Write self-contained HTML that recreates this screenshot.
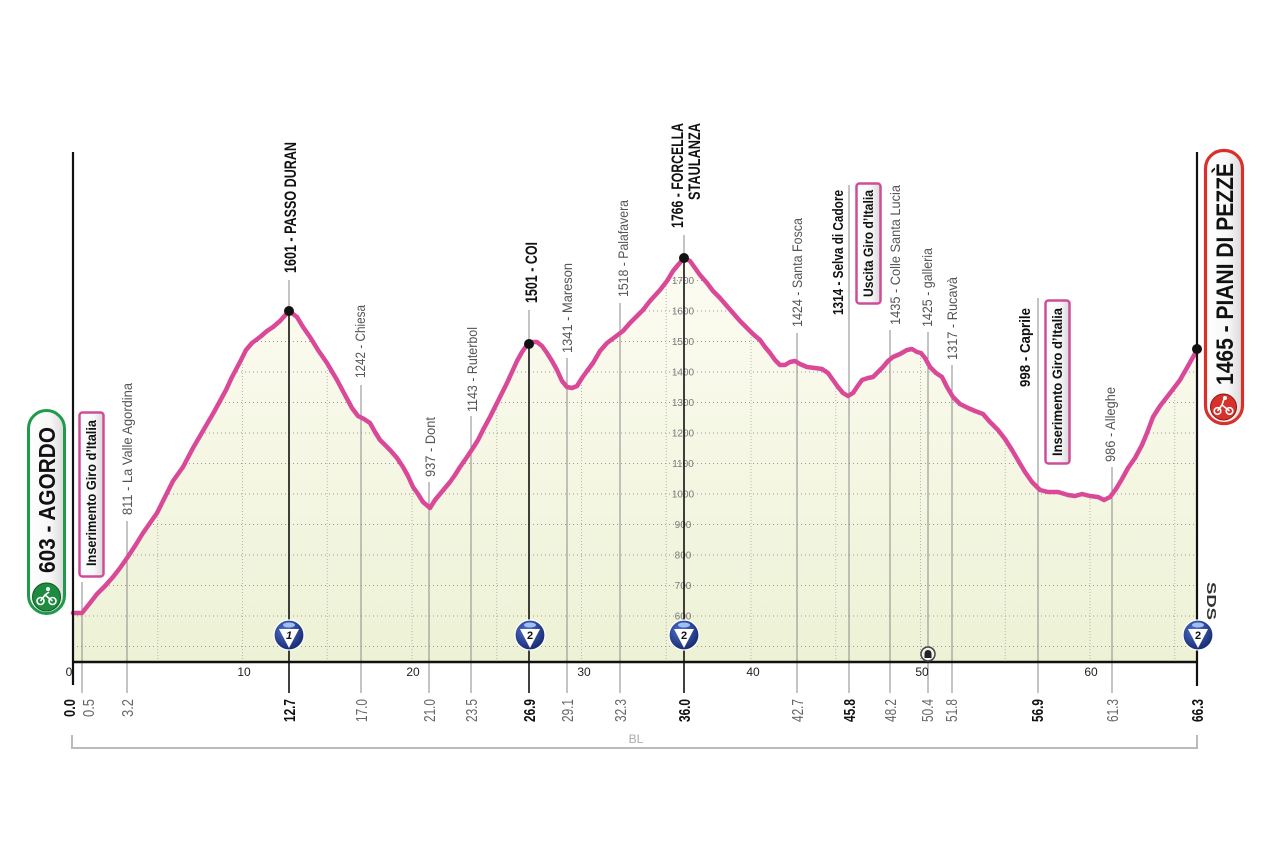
<!DOCTYPE html>
<html><head><meta charset="utf-8"><style>
html,body{margin:0;padding:0;background:#fff;}
svg{display:block;}
text{font-family:"Liberation Sans",sans-serif;}
</style></head><body>
<svg width="1280" height="852" viewBox="0 0 1280 852" xmlns="http://www.w3.org/2000/svg">
<defs>
<linearGradient id="fillg" x1="0" y1="250" x2="0" y2="662" gradientUnits="userSpaceOnUse">
<stop offset="0" stop-color="#fdfcf3"/><stop offset="1" stop-color="#edf2d5"/></linearGradient>
<linearGradient id="boxg" x1="0" y1="0" x2="1" y2="0">
<stop offset="0" stop-color="#ffffff"/><stop offset="0.6" stop-color="#f7f7f7"/><stop offset="1" stop-color="#d9d9d9"/></linearGradient>
<radialGradient id="kom" cx="0.4" cy="0.35" r="0.7">
<stop offset="0" stop-color="#4f73cf"/><stop offset="1" stop-color="#15256a"/></radialGradient>
<clipPath id="cp"><path id="areaP" d="M73,613 L82,613 L90,603 L97,594 L105,586 L113,577 L120,568 L127,558 L135,546 L143,533 L150,523 L157,513 L165,497 L173,481 L183,467 L193,448 L200,436 L207,424 L214,412 L220,401 L226,390 L232,377 L240,362 L246,350 L252,343 L260,337 L267,331 L273,327 L280,321 L289,311 L297,317 L303,327 L310,337 L318,350 L327,363 L337,380 L345,395 L352,408 L358,416 L364,419 L370,423 L375,432 L380,440 L390,450 L397,458 L403,467 L408,476 L413,487 L418,494 L423,502 L430,508 L435,500 L440,494 L450,482 L455,475 L460,467 L467,457 L473,448 L478,440 L483,430 L490,417 L497,403 L502,393 L507,383 L512,372 L517,361 L522,352 L527,345 L532,342 L537,342 L542,346 L547,353 L552,361 L557,370 L562,381 L567,387 L572,388 L577,386 L582,378 L587,371 L593,363 L600,351 L607,343 L615,337 L623,331 L630,323 L637,316 L643,310 L650,301 L660,290 L667,281 L673,271 L678,265 L684,258 L690,261 L695,268 L700,275 L707,283 L713,291 L720,298 L726,305 L733,313 L740,321 L747,328 L753,334 L760,340 L765,347 L770,353 L775,360 L780,365 L785,365 L790,362 L795,361 L800,364 L807,367 L815,368 L822,369 L828,373 L833,380 L838,387 L843,393 L848,396 L853,393 L857,387 L862,380 L868,378 L873,377 L878,372 L883,367 L888,361 L893,357 L900,354 L907,350 L912,349 L917,352 L921,353 L925,358 L930,367 L936,373 L942,377 L947,387 L953,397 L960,404 L968,408 L975,411 L983,414 L990,422 L998,430 L1005,439 L1012,450 L1019,462 L1025,472 L1032,482 L1040,490 L1048,492 L1058,492 L1068,495 L1075,496 L1082,494 L1090,496 L1098,497 L1104,500 L1110,497 L1116,489 L1122,479 L1128,468 L1135,458 L1142,445 L1147,433 L1153,417 L1160,406 L1167,397 L1174,388 L1180,380 L1188,366 L1197,350 L1197,662 L73,662 Z"/></clipPath>
</defs>

<!-- fill -->
<use href="#areaP" fill="url(#fillg)"/>

<!-- grid -->
<g clip-path="url(#cp)" stroke="#9a9a9a" stroke-width="1" stroke-dasharray="1 3" fill="none">
<path d="M73,646.5H1197M73,616H1197M73,585.5H1197M73,555H1197M73,524.5H1197M73,494H1197M73,463.5H1197M73,433H1197M73,402.5H1197M73,372H1197M73,341.5H1197M73,311H1197M73,280.5H1197"/>
<path stroke-dasharray="1 2" stroke="#b5b5b5" d="M157.75,250V662M242.5,250V662M327.25,250V662M412,250V662M496.75,250V662M581.5,250V662M666.25,250V662M751,250V662M835.75,250V662M920.5,250V662M1005.25,250V662M1090,250V662M1174.75,250V662"/>
</g>

<!-- elevation labels -->
<g font-size="10" fill="#7a7a7a" text-anchor="middle">
<text x="683" y="619.5">600</text><text x="683" y="589">700</text><text x="683" y="558.5">800</text><text x="683" y="528">900</text><text x="683" y="497.5">1000</text><text x="683" y="467">1100</text><text x="683" y="436.5">1200</text><text x="683" y="406">1300</text><text x="683" y="375.5">1400</text><text x="683" y="345">1500</text><text x="683" y="314.5">1600</text><text x="683" y="284">1700</text>
</g>

<!-- grey reference lines -->
<g stroke="#8a8a8a" stroke-width="1">
<line x1="82" y1="582" x2="82" y2="693"/>
<line x1="127" y1="521" x2="127" y2="693"/>
<line x1="289" y1="280" x2="289" y2="311"/>
<line x1="361" y1="385" x2="361" y2="693"/>
<line x1="429" y1="482" x2="429" y2="693"/>
<line x1="471" y1="416" x2="471" y2="693"/>
<line x1="529" y1="310" x2="529" y2="343"/>
<line x1="567" y1="358" x2="567" y2="693"/>
<line x1="620" y1="303" x2="620" y2="693"/>
<line x1="684" y1="235" x2="684" y2="258"/>
<line x1="797" y1="333" x2="797" y2="693"/>
<line x1="849" y1="185" x2="849" y2="693"/>
<line x1="890" y1="330" x2="890" y2="693"/>
<line x1="928" y1="332" x2="928" y2="693"/>
<line x1="952" y1="365" x2="952" y2="693"/>
<line x1="1038" y1="298" x2="1038" y2="693"/>
<line x1="1112" y1="467" x2="1112" y2="693"/>
</g>
<!-- black summit lines -->
<g stroke="#111" stroke-width="1.6">
<line x1="289" y1="311" x2="289" y2="693"/>
<line x1="529" y1="343" x2="529" y2="693"/>
<line x1="684" y1="258" x2="684" y2="693"/>
</g>

<!-- profile line -->
<path d="M73,613 L82,613 L90,603 L97,594 L105,586 L113,577 L120,568 L127,558 L135,546 L143,533 L150,523 L157,513 L165,497 L173,481 L183,467 L193,448 L200,436 L207,424 L214,412 L220,401 L226,390 L232,377 L240,362 L246,350 L252,343 L260,337 L267,331 L273,327 L280,321 L289,311 L297,317 L303,327 L310,337 L318,350 L327,363 L337,380 L345,395 L352,408 L358,416 L364,419 L370,423 L375,432 L380,440 L390,450 L397,458 L403,467 L408,476 L413,487 L418,494 L423,502 L430,508 L435,500 L440,494 L450,482 L455,475 L460,467 L467,457 L473,448 L478,440 L483,430 L490,417 L497,403 L502,393 L507,383 L512,372 L517,361 L522,352 L527,345 L532,342 L537,342 L542,346 L547,353 L552,361 L557,370 L562,381 L567,387 L572,388 L577,386 L582,378 L587,371 L593,363 L600,351 L607,343 L615,337 L623,331 L630,323 L637,316 L643,310 L650,301 L660,290 L667,281 L673,271 L678,265 L684,258 L690,261 L695,268 L700,275 L707,283 L713,291 L720,298 L726,305 L733,313 L740,321 L747,328 L753,334 L760,340 L765,347 L770,353 L775,360 L780,365 L785,365 L790,362 L795,361 L800,364 L807,367 L815,368 L822,369 L828,373 L833,380 L838,387 L843,393 L848,396 L853,393 L857,387 L862,380 L868,378 L873,377 L878,372 L883,367 L888,361 L893,357 L900,354 L907,350 L912,349 L917,352 L921,353 L925,358 L930,367 L936,373 L942,377 L947,387 L953,397 L960,404 L968,408 L975,411 L983,414 L990,422 L998,430 L1005,439 L1012,450 L1019,462 L1025,472 L1032,482 L1040,490 L1048,492 L1058,492 L1068,495 L1075,496 L1082,494 L1090,496 L1098,497 L1104,500 L1110,497 L1116,489 L1122,479 L1128,468 L1135,458 L1142,445 L1147,433 L1153,417 L1160,406 L1167,397 L1174,388 L1180,380 L1188,366 L1197,350" fill="none" stroke="#da4898" stroke-width="4.5" stroke-linejoin="round" stroke-linecap="round"/>

<!-- axes -->
<g stroke="#111" fill="none">
<line x1="72" y1="662" x2="1198" y2="662" stroke-width="2.5"/>
<line x1="73" y1="152" x2="73" y2="685" stroke-width="2.2"/>
<line x1="1197" y1="152" x2="1197" y2="686" stroke-width="2.2"/>
</g>

<!-- peak dots -->
<g fill="#111">
<circle cx="289" cy="311" r="5"/><circle cx="529" cy="344" r="5"/><circle cx="684" cy="258" r="5"/><circle cx="1197" cy="349" r="5"/>
</g>

<!-- KOM icons -->
<g>
<g transform="translate(289,635)"><circle r="15" fill="url(#kom)" stroke="#fff" stroke-width="1.2"/><ellipse cx="0" cy="-10" rx="6" ry="2.5" fill="#9fc0f0"/><path d="M-10,-6 L10,-6 L0,13 Z" fill="#fff"/><text x="0" y="4" font-size="11" font-weight="bold" font-style="italic" text-anchor="middle" fill="#111">1</text></g>
<g transform="translate(530,635)"><circle r="15" fill="url(#kom)" stroke="#fff" stroke-width="1.2"/><ellipse cx="0" cy="-10" rx="6" ry="2.5" fill="#9fc0f0"/><path d="M-10,-6 L10,-6 L0,13 Z" fill="#fff"/><text x="0" y="4" font-size="11" font-weight="bold" text-anchor="middle" fill="#111">2</text></g>
<g transform="translate(684,635)"><circle r="15" fill="url(#kom)" stroke="#fff" stroke-width="1.2"/><ellipse cx="0" cy="-10" rx="6" ry="2.5" fill="#9fc0f0"/><path d="M-10,-6 L10,-6 L0,13 Z" fill="#fff"/><text x="0" y="4" font-size="11" font-weight="bold" text-anchor="middle" fill="#111">2</text></g>
<g transform="translate(1198,635)"><circle r="15" fill="url(#kom)" stroke="#fff" stroke-width="1.2"/><ellipse cx="0" cy="-10" rx="6" ry="2.5" fill="#9fc0f0"/><path d="M-10,-6 L10,-6 L0,13 Z" fill="#fff"/><text x="0" y="4" font-size="11" font-weight="bold" text-anchor="middle" fill="#111">2</text></g>
</g>

<!-- galleria icon -->
<g transform="translate(928,654)"><circle r="7" fill="#f2f2f2" stroke="#444" stroke-width="1.5"/><path d="M-3.5,4 V-0.5 A3.5,3.5 0 0 1 3.5,-0.5 V4 Z" fill="#222"/></g>

<!-- km tick labels -->
<g font-size="12" fill="#222" text-anchor="middle">
<text x="69" y="676">0</text><text x="244" y="676">10</text><text x="413" y="676">20</text><text x="584" y="676">30</text><text x="753" y="676">40</text><text x="922" y="676">50</text><text x="1091" y="676">60</text>
</g>

<!-- top labels (rotated) -->
<g font-size="14" fill="#555" lengthAdjust="spacingAndGlyphs">
<text transform="translate(132,515) rotate(-90)" textLength="132" lengthAdjust="spacingAndGlyphs">811 - La Valle Agordina</text>
<text transform="translate(365,378) rotate(-90)" textLength="73" lengthAdjust="spacingAndGlyphs">1242 - Chiesa</text>
<text transform="translate(435,477) rotate(-90)" textLength="60" lengthAdjust="spacingAndGlyphs">937 - Dont</text>
<text transform="translate(477,412) rotate(-90)" textLength="85" lengthAdjust="spacingAndGlyphs">1143 - Ruterbol</text>
<text transform="translate(572,353) rotate(-90)" textLength="90" lengthAdjust="spacingAndGlyphs">1341 - Mareson</text>
<text transform="translate(628,297) rotate(-90)" textLength="97" lengthAdjust="spacingAndGlyphs">1518 - Palafavera</text>
<text transform="translate(802,327) rotate(-90)" textLength="109" lengthAdjust="spacingAndGlyphs">1424 - Santa Fosca</text>
<text transform="translate(900,325) rotate(-90)" textLength="140" lengthAdjust="spacingAndGlyphs">1435 - Colle Santa Lucia</text>
<text transform="translate(932,327) rotate(-90)" textLength="79" lengthAdjust="spacingAndGlyphs">1425 - galleria</text>
<text transform="translate(957,360) rotate(-90)" textLength="83" lengthAdjust="spacingAndGlyphs">1317 - Rucavà</text>
<text transform="translate(1115,462) rotate(-90)" textLength="75" lengthAdjust="spacingAndGlyphs">986 - Alleghe</text>
</g>
<g font-size="17" font-weight="bold" fill="#111">
<text transform="translate(296,273) rotate(-90)" textLength="131" lengthAdjust="spacingAndGlyphs">1601 - PASSO DURAN</text>
<text transform="translate(537,303) rotate(-90)" textLength="61" lengthAdjust="spacingAndGlyphs">1501 - COI</text>
<text transform="translate(683,228) rotate(-90)" textLength="105" lengthAdjust="spacingAndGlyphs">1766 - FORCELLA</text>
<text transform="translate(700,200) rotate(-90)" textLength="77" lengthAdjust="spacingAndGlyphs">STAULANZA</text>
</g>
<g font-size="15" font-weight="bold" fill="#111">
<text transform="translate(843,315) rotate(-90)" textLength="125" lengthAdjust="spacingAndGlyphs">1314 - Selva di Cadore</text>
<text transform="translate(1030,387) rotate(-90)" textLength="79" lengthAdjust="spacingAndGlyphs">998 - Caprile</text>
</g>

<!-- pink boxes -->
<g>
<rect x="79.5" y="412.5" width="24" height="164" rx="3" fill="url(#boxg)" stroke="#cf4d98" stroke-width="2.5"/>
<text transform="translate(96,566) rotate(-90)" font-size="14" font-weight="bold" fill="#111" textLength="146" lengthAdjust="spacingAndGlyphs">Inserimento Giro d’Italia</text>
<rect x="856.5" y="183.5" width="24" height="120" rx="3" fill="url(#boxg)" stroke="#cf4d98" stroke-width="2.5"/>
<text transform="translate(873,297) rotate(-90)" font-size="14" font-weight="bold" fill="#111" textLength="107" lengthAdjust="spacingAndGlyphs">Uscita Giro d’Italia</text>
<rect x="1045.5" y="300.5" width="24" height="163" rx="3" fill="url(#boxg)" stroke="#cf4d98" stroke-width="2.5"/>
<text transform="translate(1062,456) rotate(-90)" font-size="14" font-weight="bold" fill="#111" textLength="148" lengthAdjust="spacingAndGlyphs">Inserimento Giro d’Italia</text>
</g>

<!-- start pill -->
<g>
<rect x="28.5" y="410.5" width="36" height="203" rx="18" fill="url(#boxg)" stroke="#1f9a4b" stroke-width="3"/>
<text transform="translate(55,573) rotate(-90)" font-size="23" font-weight="bold" fill="#111" textLength="146" lengthAdjust="spacingAndGlyphs">603 - AGORDO</text>
<circle cx="46.5" cy="597" r="14" fill="#1f8b40" stroke="#0d5a25" stroke-width="1"/>
<g stroke="#fff" stroke-width="1.6" fill="none"><circle cx="40.5" cy="601" r="3.5"/><circle cx="52.5" cy="601" r="3.5"/><path d="M40.5,601 L45,595 L52.5,601 M45,595 L49,592"/></g>
<circle cx="48" cy="589" r="2" fill="#fff"/>
</g>

<!-- finish pill -->
<g>
<rect x="1205.5" y="150.5" width="37" height="273" rx="18" fill="url(#boxg)" stroke="#d8312b" stroke-width="3.2"/>
<text transform="translate(1233,385) rotate(-90)" font-size="24" font-weight="bold" fill="#111" textLength="222" lengthAdjust="spacingAndGlyphs">1465 - PIANI DI PEZZÈ</text>
<circle cx="1223.5" cy="407" r="13" fill="#d8312b" stroke="#8e1612" stroke-width="1"/>
<g stroke="#fff" stroke-width="1.6" fill="none"><circle cx="1217.5" cy="411" r="3.3"/><circle cx="1229.5" cy="411" r="3.3"/><path d="M1217.5,411 L1222,405 L1229.5,411 M1222,405 L1224,399"/></g>
<circle cx="1225" cy="398" r="2" fill="#fff"/>
</g>

<!-- SDS -->
<text transform="translate(1207,582) rotate(90)" font-size="13" font-weight="bold" fill="#333" textLength="38" lengthAdjust="spacingAndGlyphs">SDS</text>

<!-- km labels bottom -->
<g font-size="16" fill="#666">
<text transform="translate(94,717) rotate(-90)" textLength="18" lengthAdjust="spacingAndGlyphs">0.5</text>
<text transform="translate(133,717) rotate(-90)" textLength="18" lengthAdjust="spacingAndGlyphs">3.2</text>
<text transform="translate(367,722) rotate(-90)" textLength="23" lengthAdjust="spacingAndGlyphs">17.0</text>
<text transform="translate(435,722) rotate(-90)" textLength="23" lengthAdjust="spacingAndGlyphs">21.0</text>
<text transform="translate(477,722) rotate(-90)" textLength="23" lengthAdjust="spacingAndGlyphs">23.5</text>
<text transform="translate(573,722) rotate(-90)" textLength="23" lengthAdjust="spacingAndGlyphs">29.1</text>
<text transform="translate(626,722) rotate(-90)" textLength="23" lengthAdjust="spacingAndGlyphs">32.3</text>
<text transform="translate(803,722) rotate(-90)" textLength="23" lengthAdjust="spacingAndGlyphs">42.7</text>
<text transform="translate(896,722) rotate(-90)" textLength="23" lengthAdjust="spacingAndGlyphs">48.2</text>
<text transform="translate(933,722) rotate(-90)" textLength="23" lengthAdjust="spacingAndGlyphs">50.4</text>
<text transform="translate(957,722) rotate(-90)" textLength="23" lengthAdjust="spacingAndGlyphs">51.8</text>
<text transform="translate(1118,722) rotate(-90)" textLength="23" lengthAdjust="spacingAndGlyphs">61.3</text>
</g>
<g font-size="16" font-weight="bold" fill="#111">
<text transform="translate(75,717) rotate(-90)" textLength="18" lengthAdjust="spacingAndGlyphs">0.0</text>
<text transform="translate(295,722) rotate(-90)" textLength="23" lengthAdjust="spacingAndGlyphs">12.7</text>
<text transform="translate(535,722) rotate(-90)" textLength="23" lengthAdjust="spacingAndGlyphs">26.9</text>
<text transform="translate(690,722) rotate(-90)" textLength="23" lengthAdjust="spacingAndGlyphs">36.0</text>
<text transform="translate(855,722) rotate(-90)" textLength="23" lengthAdjust="spacingAndGlyphs">45.8</text>
<text transform="translate(1043,722) rotate(-90)" textLength="23" lengthAdjust="spacingAndGlyphs">56.9</text>
<text transform="translate(1203,722) rotate(-90)" textLength="23" lengthAdjust="spacingAndGlyphs">66.3</text>
</g>

<!-- bracket -->
<path d="M72,735 V748 H1197 V735" fill="none" stroke="#bbbbbb" stroke-width="2"/>
<text x="636" y="743" font-size="12" fill="#aaaaaa" text-anchor="middle">BL</text>
</svg>
</body></html>
